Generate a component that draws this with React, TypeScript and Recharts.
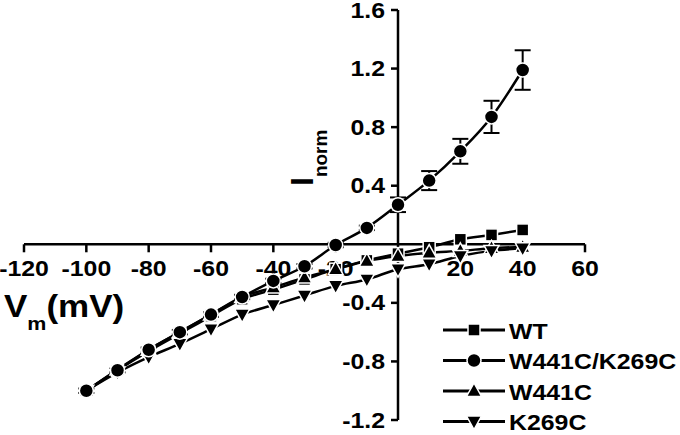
import React from "react";
import {
  ErrorBar,
  Line,
  LineChart,
  ReferenceDot,
  ReferenceLine,
  XAxis,
  YAxis,
} from "recharts";

// membrane potential (mV)
const voltages = [-100, -90, -80, -70, -60, -50, -40, -30, -20, -10, 0, 10, 20, 30, 40];

// normalised currents
const wt = [-1.0, -0.86, -0.73, -0.61, -0.49, -0.375, -0.31, -0.24, -0.17, -0.11, -0.064, -0.02, 0.034, 0.064, 0.098];
const w441cK269c = [-1.0, -0.86, -0.72, -0.6, -0.48, -0.36, -0.25, -0.15, -0.005, 0.112, 0.27, 0.435, 0.635, 0.87, 1.19];
const w441cK269cErr = [0.015, 0.015, 0.015, 0.015, 0.015, 0.015, 0.015, 0.015, 0.015, 0.015, 0.05, 0.065, 0.085, 0.11, 0.135];
const w441c = [-1.0, -0.855, -0.72, -0.6, -0.48, -0.36, -0.295, -0.227, -0.17, -0.114, -0.08, -0.057, -0.045, -0.027, -0.018];
const k269c = [-1.0, -0.875, -0.77, -0.68, -0.58, -0.48, -0.415, -0.35, -0.284, -0.24, -0.17, -0.136, -0.08, -0.045, -0.027];

const xTicks = [-120, -100, -80, -60, -40, -20, 20, 40, 60];
const yTicks = [1.6, 1.2, 0.8, 0.4, -0.4, -0.8, -1.2];

const rows = voltages.map((v, i) => ({
  v,
  wt: wt[i],
  dbl: w441cK269c[i],
  dblErr: w441cK269cErr[i],
  w441c: w441c[i],
  k269c: k269c[i],
}));

const FONT = "'Liberation Sans', Arial, sans-serif";
const STRETCH = 1.13; // the figure's lettering is a little wider than Arial

// bold text, widened horizontally around its anchor point
function SText(props: { x: number; y: number; size: number; anchor?: "start" | "middle" | "end"; children: React.ReactNode }) {
  const { x, y, size, anchor = "start", children } = props;
  return (
    <text
      transform={`translate(${x},${y}) scale(${STRETCH},1)`}
      textAnchor={anchor}
      fontFamily={FONT}
      fontWeight="bold"
      fontSize={size}
      fill="#000"
    >
      {children}
    </text>
  );
}

type Marker = "square" | "circle" | "up" | "down";

function markerShape(kind: Marker, cx: number, cy: number, key?: any) {
  const stroke = "#fff";
  const sw = 1.5;
  if (kind === "square") {
    return <rect key={key} x={cx - 6} y={cy - 6} width={12} height={12} fill="#000" stroke={stroke} strokeWidth={sw} />;
  }
  if (kind === "circle") {
    return <circle key={key} cx={cx} cy={cy} r={7} fill="#000" stroke={stroke} strokeWidth={sw} />;
  }
  if (kind === "up") {
    return (
      <polygon
        key={key}
        points={`${cx},${cy - 8} ${cx - 7.5},${cy + 5.5} ${cx + 7.5},${cy + 5.5}`}
        fill="#000"
        stroke={stroke}
        strokeWidth={sw}
      />
    );
  }
  return (
    <polygon
      key={key}
      points={`${cx},${cy + 8} ${cx - 7.5},${cy - 5.5} ${cx + 7.5},${cy - 5.5}`}
      fill="#000"
      stroke={stroke}
      strokeWidth={sw}
    />
  );
}

const dotFor = (kind: Marker) => (props: any) => {
  const { cx, cy, key, index } = props;
  if (cx == null || cy == null) return <g key={key ?? index} />;
  return markerShape(kind, cx, cy, key ?? `${kind}-${index}`);
};

const series: { key: string; name: string; marker: Marker }[] = [
  { key: "wt", name: "WT", marker: "square" },
  { key: "dbl", name: "W441C/K269C", marker: "circle" },
  { key: "w441c", name: "W441C", marker: "up" },
  { key: "k269c", name: "K269C", marker: "down" },
];

function LegendBox() {
  return (
    <g transform="translate(440, 314)">
      {series.map((s, i) => {
        const y = 16 + i * 30.5;
        return (
          <g key={s.key}>
            <line x1={3} x2={65} y1={y} y2={y} stroke="#000" strokeWidth={3} />
            {markerShape(s.marker, 34, y)}
            <SText x={69} y={y + 8.5} size={22}>
              {s.name}
            </SText>
          </g>
        );
      })}
    </g>
  );
}

const XTickMark = (label: number) => (props: any) => {
  const { cx, cy } = props;
  return (
    <g>
      <line x1={cx} x2={cx} y1={cy} y2={cy + 8} stroke="#000" strokeWidth={2.5} />
      <SText x={cx} y={cy + 32} size={22} anchor="middle">
        {label}
      </SText>
    </g>
  );
};

const YTickMark = (label: number) => (props: any) => {
  const { cx, cy } = props;
  return (
    <g>
      <line x1={cx - 7} x2={cx} y1={cy} y2={cy} stroke="#000" strokeWidth={2.5} />
      <SText x={cx - 13} y={cy + 7.5} size={22} anchor="end">
        {label.toFixed(1)}
      </SText>
    </g>
  );
};

export default function App() {
  return (
    <div style={{ position: "fixed", left: 0, top: 0, width: 680, height: 435, background: "#fff" }}>
      <LineChart
        width={680}
        height={435}
        data={rows}
        margin={{ top: 10, right: 95, left: 24, bottom: 15 }}
      >
        <XAxis dataKey="v" type="number" domain={[-120, 60]} hide allowDataOverflow />
        <YAxis type="number" domain={[-1.2, 1.6]} hide allowDataOverflow />

        <ReferenceLine segment={[{ x: -120, y: 0 }, { x: 60, y: 0 }]} stroke="#000" strokeWidth={2.5} ifOverflow="visible" />
        <ReferenceLine segment={[{ x: 0, y: -1.2 }, { x: 0, y: 1.6 }]} stroke="#000" strokeWidth={2.5} ifOverflow="visible" />
        {xTicks.map((t) => (
          <ReferenceDot key={`xt${t}`} x={t} y={0} r={0} ifOverflow="visible" shape={XTickMark(t)} />
        ))}
        {yTicks.map((t) => (
          <ReferenceDot key={`yt${t}`} x={0} y={t} r={0} ifOverflow="visible" shape={YTickMark(t)} />
        ))}

        <Line type="monotone" dataKey="wt" name="WT" stroke="#000" strokeWidth={2.5} dot={dotFor("square")} isAnimationActive={false} />
        <Line type="monotone" dataKey="w441c" name="W441C" stroke="#000" strokeWidth={2.5} dot={dotFor("up")} isAnimationActive={false} />
        <Line type="monotone" dataKey="k269c" name="K269C" stroke="#000" strokeWidth={2.5} dot={dotFor("down")} isAnimationActive={false} />
        <Line type="monotone" dataKey="dbl" name="W441C/K269C" stroke="#000" strokeWidth={2.5} dot={dotFor("circle")} isAnimationActive={false}>
          <ErrorBar dataKey="dblErr" width={8} stroke="#000" strokeWidth={2} direction="y" />
        </Line>
      </LineChart>

      {/* axis titles and legend */}
      <svg width={680} height={435} style={{ position: "absolute", left: 0, top: 0, pointerEvents: "none" }}>
        <g transform="translate(313, 186) rotate(-90)">
          <text x={0} y={0} fontFamily={FONT} fontWeight="bold" fontSize={32} fill="#000">
            I
            <tspan dy={14} fontSize={19}>
              norm
            </tspan>
          </text>
        </g>
        <SText x={4} y={317} size={31}>
          V
          <tspan dy={13} fontSize={19}>
            m
          </tspan>
          <tspan dy={-13} fontSize={31}>
            (mV)
          </tspan>
        </SText>
        <LegendBox />
      </svg>
    </div>
  );
}
